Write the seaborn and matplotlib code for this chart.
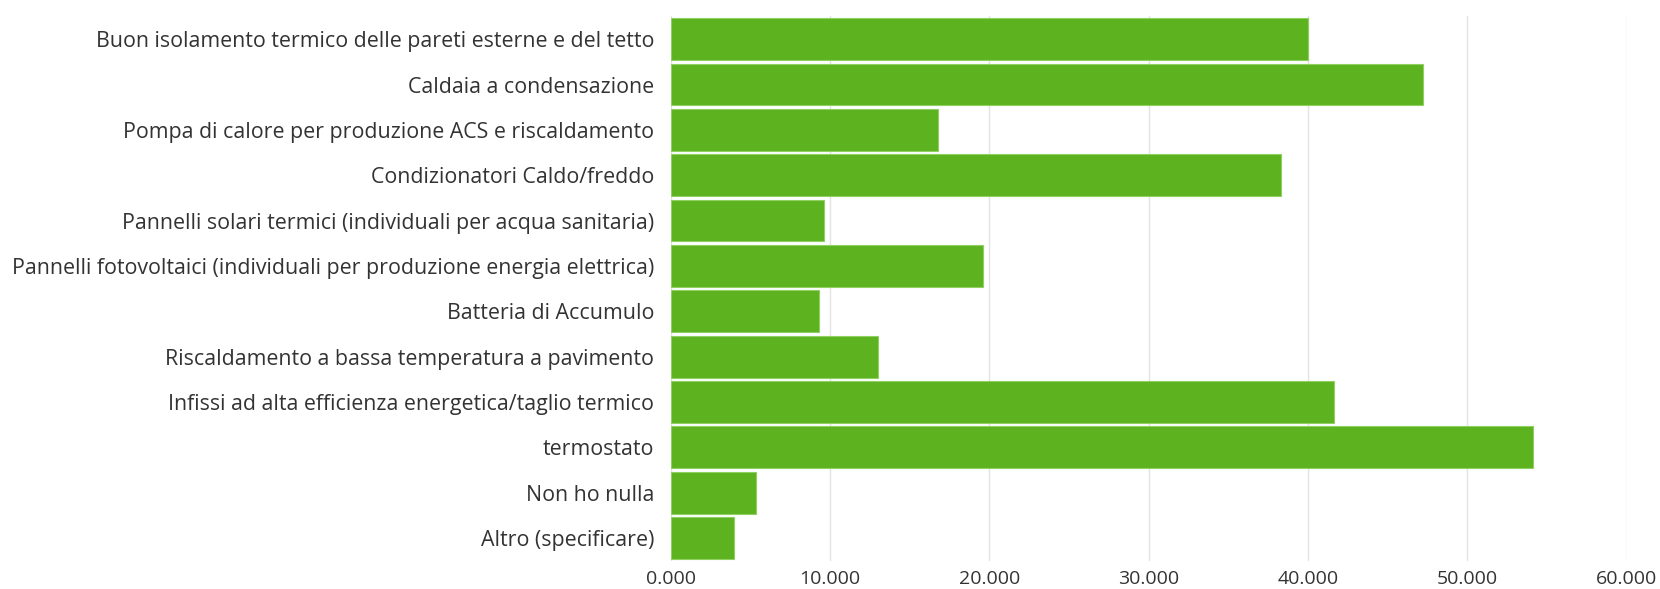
import matplotlib
matplotlib.use("Agg")
import matplotlib.pyplot as plt
import seaborn as sns
import pandas as pd
from matplotlib.ticker import FuncFormatter

categories = [
    "Buon isolamento termico delle pareti esterne e del tetto",
    "Caldaia a condensazione",
    "Pompa di calore per produzione ACS e riscaldamento",
    "Condizionatori Caldo/freddo",
    "Pannelli solari termici (individuali per acqua sanitaria)",
    "Pannelli fotovoltaici (individuali per produzione energia elettrica)",
    "Batteria di Accumulo",
    "Riscaldamento a bassa temperatura a pavimento",
    "Infissi ad alta efficienza energetica/taglio termico",
    "termostato",
    "Non ho nulla",
    "Altro (specificare)",
]
values = [40.0, 47.2, 16.8, 38.3, 9.6, 19.6, 9.3, 13.0, 41.6, 54.1, 5.35, 4.0]
x_ticks = [0, 10, 20, 30, 40, 50, 60]

df = pd.DataFrame({"categoria": categories, "valore": values})

sns.set_theme(style="white")
plt.rcParams["font.family"] = ["Open Sans", "DejaVu Sans"]

fig = plt.figure(figsize=(16.6, 5.89), dpi=100)
ax = fig.add_axes([0.404, 0.048, 0.576, 0.924])

sns.barplot(data=df, y="categoria", x="valore", orient="h", color="#5cb21f",
            saturation=1, width=0.92, edgecolor="#8fd060", linewidth=0.8,
            ax=ax, zorder=3)

ax.set_xlim(0, 60)
ax.set_xticks(x_ticks)
ax.xaxis.set_major_formatter(FuncFormatter(lambda v, p: f"{v:.3f}"))
ax.grid(axis="x", color="#e3e3e3", linewidth=1.0, zorder=0)
ax.grid(axis="y", visible=False)
for s in ax.spines.values():
    s.set_visible(False)
ax.set_xlabel("")
ax.set_ylabel("")
ax.tick_params(axis="y", length=0, pad=12, labelsize=15.4, labelcolor="#333333")
ax.tick_params(axis="x", length=0, pad=7, labelsize=14, labelcolor="#333333")

fig.savefig("out.png", dpi=100, facecolor="white")
